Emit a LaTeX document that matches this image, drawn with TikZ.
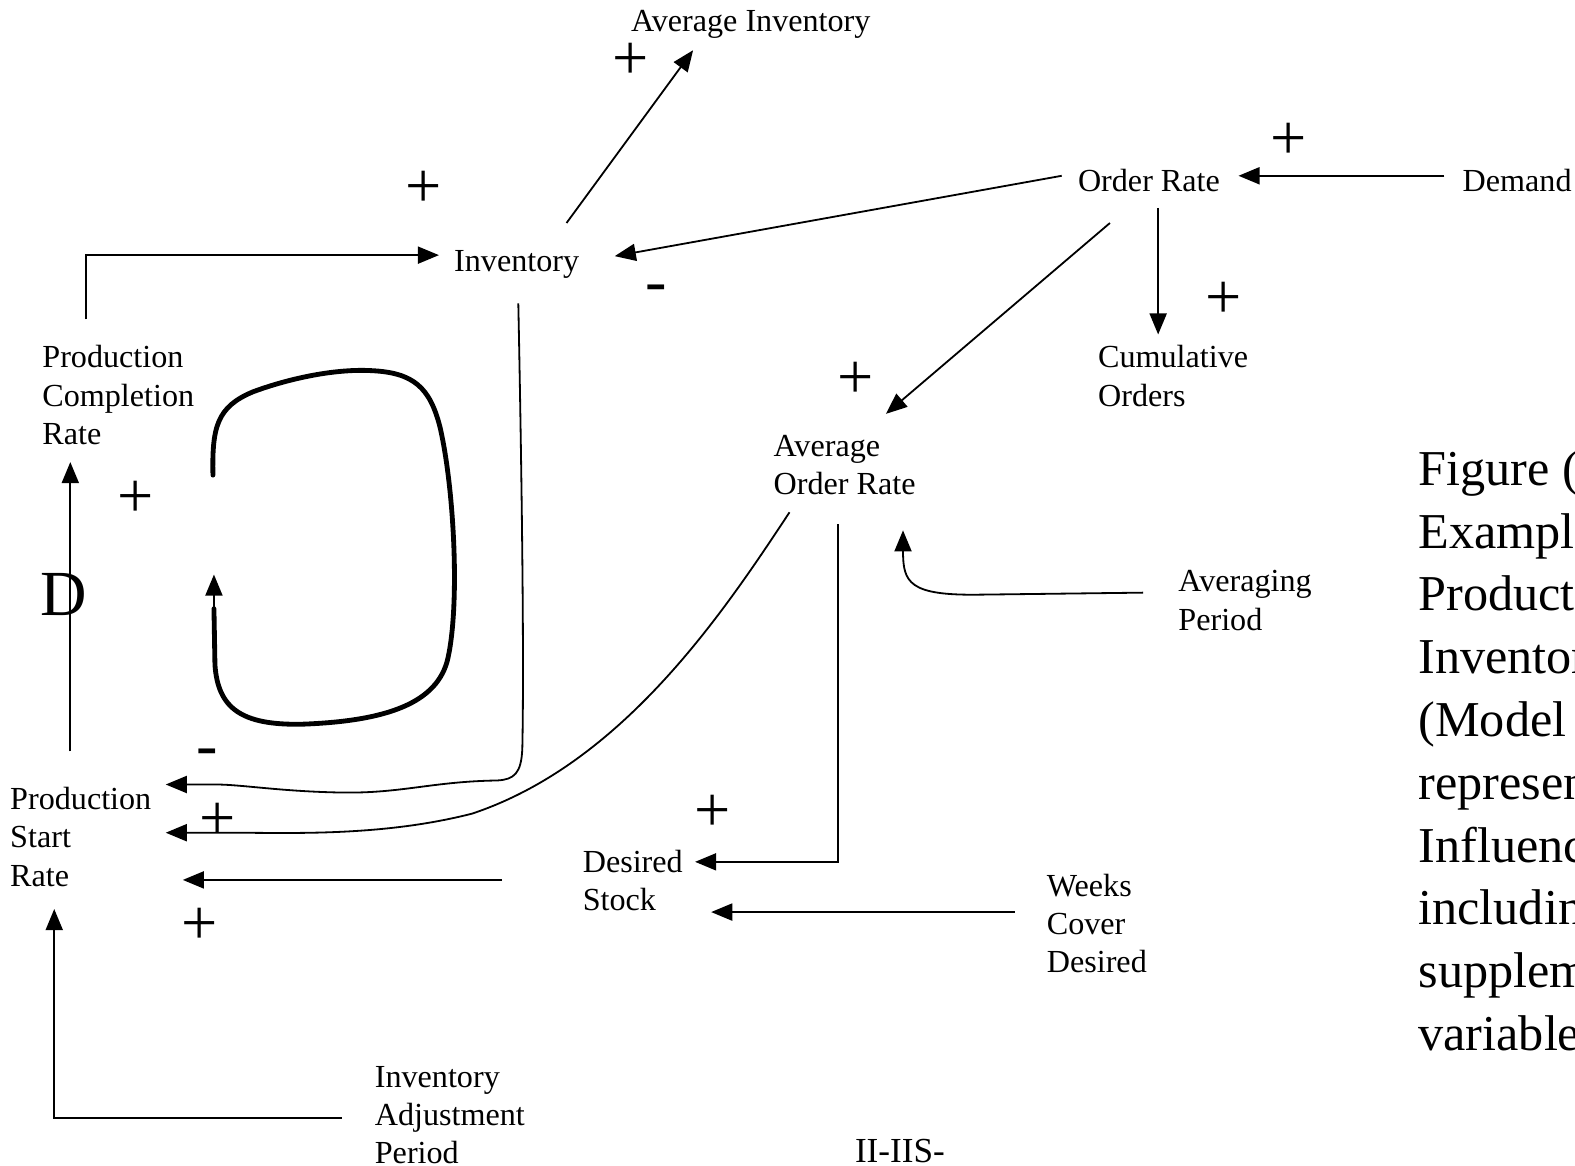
\documentclass[tikz,border=0pt]{standalone}
\usepackage{fontspec}
\setmainfont{Liberation Serif}
\usetikzlibrary{arrows.meta,calc}
\begin{document}
\begin{tikzpicture}[x=1pt,y=-1pt,
  lab/.style={anchor=north west, inner sep=0pt, align=left, font=\fontsize{32}{38}\selectfont},
  sign/.style={anchor=base, inner sep=0pt, font=\fontsize{64}{70}\selectfont},
  link/.style={line width=1.8pt, -{Triangle[length=21pt,width=17pt]}},
  loopline/.style={line width=4.8pt, line cap=round, line join=round},
]
\useasboundingbox (0,0) rectangle (1568,1160);
\clip (0,0) rectangle (1568,1160);

% variables
\node[lab] (avinv) at (628,4.4)    {\strut Average Inventory};
\node[lab] (ordr)  at (1073,163.4) {\strut Order Rate};
\node[lab] (dem)   at (1456,163.4) {\strut Demand};
\node[lab] (inv)   at (452,243.4)  {\strut Inventory};
\node[lab] (pcr)   at (42,339.4)   {\strut Production\\\strut Completion\\\strut Rate};
\node[lab] (cum)   at (1093,339.4) {\strut Cumulative\\\strut Orders};
\node[lab] (aor)   at (770,427.4)  {\strut Average\\\strut Order Rate};
\node[lab] (avp)   at (1173,562.4) {\strut Averaging\\\strut Period};
\node[lab] (psr)   at (10,779.4)   {\strut Production\\\strut Start\\\strut Rate};
\node[lab] (ds)    at (580,841.4)  {\strut Desired\\\strut Stock};
\node[lab] (wcd)   at (1042,865.4) {\strut Weeks\\\strut Cover\\\strut Desired};
\node[lab] (iap)   at (373,1055.4) {\strut Inventory\\\strut Adjustment\\Period};

\node[anchor=base west, inner sep=0pt, font=\fontsize{35}{40}\selectfont] (code) at (851,1157) {II-IIS-};
\node[anchor=base west, inner sep=0pt, font=\fontsize{64}{70}\selectfont] (dmark) at (40,613) {D};

% caption block running off the right edge
\node[anchor=north west, inner sep=0pt, align=left, font=\fontsize{50}{62.5}\selectfont] (cap) at (1412,439.25)
  {\strut Figure (\\\strut Example\\\strut Production\\\strut Inventory\\\strut (Model\\\strut represented\\\strut Influence\\\strut including\\\strut supplementary\\\strut variables};

% influences
\draw[link] ($(inv.north west)+(112,-21.4)$) -- ($(avinv.north west)+(62,45.6)$);
\draw[link] ($(ordr.north west)+(-16,11.6)$) -- ($(inv.north west)+(160,11.6)$);
\draw[link] ($(dem.north west)+(-18,11.6)$) -- ($(ordr.north west)+(160,11.6)$);
\draw[link] ($(ordr.north west)+(80,43.6)$) -- ($(cum.north west)+(60,-6.4)$);
\draw[link] ($(ordr.north west)+(32,58.6)$) -- ($(aor.north west)+(112,-15.4)$);
\draw[link] ($(pcr.north west)+(44,-21.4)$) |- ($(inv.north west)+(-15,10.6)$);
\draw[link] ($(psr.north west)+(60,-31.4)$) -- ($(pcr.north west)+(28,120.6)$);
\draw[link] ($(inv.north west)+(64,58.6)$)
   .. controls (519,450) and (522,650) .. (520,745)
   .. controls (519,770) and (512,776) .. (495,777)
   .. controls (430,778) and (400,790) .. (340,789)
   .. controls (280,788) and (240,781) .. (215,781)
   -- ($(psr.north west)+(155,1.6)$);
\draw[link] ($(aor.north west)+(16,82.6)$)
   .. controls (720,610) and (620,760) .. (470,810)
   .. controls (380,833) and (290,829) .. (230,829)
   -- ($(psr.north west)+(155,49.6)$);
\draw[link] ($(ds.north west)+(-80,34.6)$) -- ($(psr.north west)+(172,96.6)$);
\draw[link] ($(aor.north west)+(64,94.6)$) |- ($(ds.north west)+(112,16.6)$);
\draw[link] ($(wcd.north west)+(-32,42.6)$) -- ($(ds.north west)+(128,66.6)$);
\draw[link] ($(avp.north west)+(-35,27.6)$) -- (975,592)
   .. controls (905,593) and (899,580) .. ($(aor.north west)+(129,100.6)$);
\draw[link] ($(iap.north west)+(-33,57.6)$) -| ($(psr.north west)+(44,125.6)$);

% feedback loop symbol
\coordinate (loopstart) at (212,473);
\coordinate (loopend) at (213,606);
\draw[loopline] (loopstart)
   .. controls (211,425) and (216,405) .. (252,390)
   .. controls (290,376) and (335,367) .. (370,369)
   .. controls (412,371) and (428,386) .. (438,425)
   .. controls (452,485) and (458,600) .. (446,655)
   .. controls (436,700) and (385,718) .. (300,721)
   .. controls (240,722) and (217,705) .. (214,662)
   -- (loopend);
\draw[link] (loopend) -- (213,572);

% polarity signs
\node[sign] (s1) at (628,79.2)  {+};
\node[sign] (s2) at (422,206.2) {+};
\node[sign] (s3) at (1283,159.2) {+};
\node[sign] (s4) at (1218,317.2) {+};
\node[sign] (s5) at (852,397.2) {+};
\node[sign] (s6) at (135,515.2) {+};
\node[sign] (s7) at (709,828.2) {+};
\node[sign] (s8) at (217,836.2) {+};
\node[sign] (s9) at (199,940.2) {+};
\node[sign] (m1) at (653,301.4) {-};
\node[sign] (m2) at (206,763.4) {-};
\end{tikzpicture}
\end{document}
